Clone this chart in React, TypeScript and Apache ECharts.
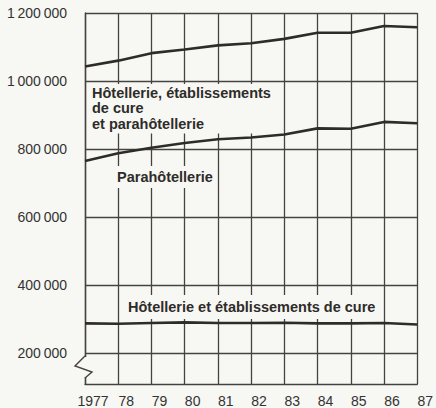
import React, { useEffect, useRef } from "react";
import * as echarts from "echarts";

const years = [1977, 1978, 1979, 1980, 1981, 1982, 1983, 1984, 1985, 1986, 1987];
const totalValues = [1043000, 1060000, 1082000, 1093000, 1105000, 1111000, 1124000, 1142000, 1142000, 1162000, 1158000];
const paraValues = [765000, 788000, 804000, 818000, 829000, 834000, 843000, 861000, 860000, 880000, 876000];
const hotelValues = [288000, 287000, 289000, 291000, 289000, 289000, 290000, 288000, 288000, 289000, 285000];
const yTicks = [200000, 400000, 600000, 800000, 1000000, 1200000];

const labelTotal = "Hôtellerie, établissements\nde cure\net parahôtellerie";
const labelPara = "Parahôtellerie";
const labelHotel = "Hôtellerie et établissements de cure";

const INK = "#2e2c29";
const GRID = "#45433f";
const BG = "#f7f7f4";
const LABEL_FONT = "bold 14.5px Liberation Sans, Arial, sans-serif";

function fmt(v: number): string {
  const s = String(v);
  return s.replace(/\B(?=(\d{3})+(?!\d))/g, "\u2009");
}

export default function App() {
  const ref = useRef<HTMLDivElement>(null);
  useEffect(() => {
    if (!ref.current) return;
    const chart = echarts.init(ref.current, undefined, { renderer: "svg" });
    const pair = (vals: number[]) => years.map((y, i) => [y, vals[i]]);
    const lineSeries = (name: string, vals: number[]) => ({
      name,
      type: "line",
      data: pair(vals),
      symbol: "none",
      lineStyle: { color: INK, width: 2.6 },
      z: 3,
    });
    chart.setOption({
      animation: false,
      backgroundColor: BG,
      textStyle: { fontFamily: "Liberation Sans, Arial, sans-serif" },
      grid: { left: 85, right: 7, top: 13, bottom: 24 },
      xAxis: {
        type: "value",
        min: 1977,
        max: 1987,
        interval: 1,
        axisLine: { show: true, onZero: false, lineStyle: { color: GRID, width: 1.4 } },
        axisTick: { show: false },
        splitLine: { show: true, lineStyle: { color: GRID, width: 1.3 } },
        axisLabel: {
          color: "#333",
          fontSize: 14,
          margin: 10,
          padding: [0, 0, 0, 16],
          formatter: (v: number) => (v === 1977 ? "1977" : String(v).slice(2)),
        },
      },
      yAxis: {
        type: "value",
        min: 110000,
        max: 1200000,
        axisLine: { show: true, lineStyle: { color: GRID, width: 1.4 } },
        axisTick: { show: false },
        splitLine: { show: false },
        axisLabel: {
          customValues: yTicks,
          color: "#333",
          fontSize: 14,
          margin: 18,
          formatter: (v: number) => fmt(v),
        },
      },
      series: [
        {
          ...lineSeries("Hôtellerie, établissements de cure et parahôtellerie", totalValues),
          markLine: {
            silent: true,
            symbol: "none",
            label: { show: false },
            lineStyle: { color: GRID, width: 1.3, type: "solid" },
            data: yTicks.map((t) => ({ yAxis: t })),
            z: 1,
          },
        },
        lineSeries("Parahôtellerie", paraValues),
        lineSeries("Hôtellerie et établissements de cure", hotelValues),
      ],
      graphic: [
        {
          type: "text",
          left: 88,
          top: 84,
          z: 10,
          style: {
            text: labelTotal,
            fill: INK,
            font: LABEL_FONT,
            lineHeight: 15.5,
            backgroundColor: BG,
            padding: [1, 5, 2, 4],
          },
        },
        {
          type: "text",
          left: 113,
          top: 166,
          z: 10,
          style: {
            text: labelPara,
            fill: INK,
            font: LABEL_FONT,
            backgroundColor: BG,
            padding: [3, 4, 4, 4],
          },
        },
        {
          type: "text",
          left: 123,
          top: 295,
          z: 10,
          style: {
            text: labelHotel,
            fill: INK,
            font: LABEL_FONT,
            backgroundColor: BG,
            padding: [4, 6, 5, 5],
          },
        },
        {
          type: "rect",
          z: 10,
          shape: { x: 82, y: 357, width: 6, height: 20 },
          style: { fill: BG },
        },
        {
          type: "polyline",
          z: 11,
          shape: { points: [[85, 356], [75, 366], [92, 372], [85, 378]] },
          style: { stroke: GRID, lineWidth: 1.4, fill: "none" },
        },
      ],
    });
    return () => chart.dispose();
  }, []);
  return <div ref={ref} style={{ width: 436, height: 408, position: "absolute", left: 0, top: 0 }} />;
}
